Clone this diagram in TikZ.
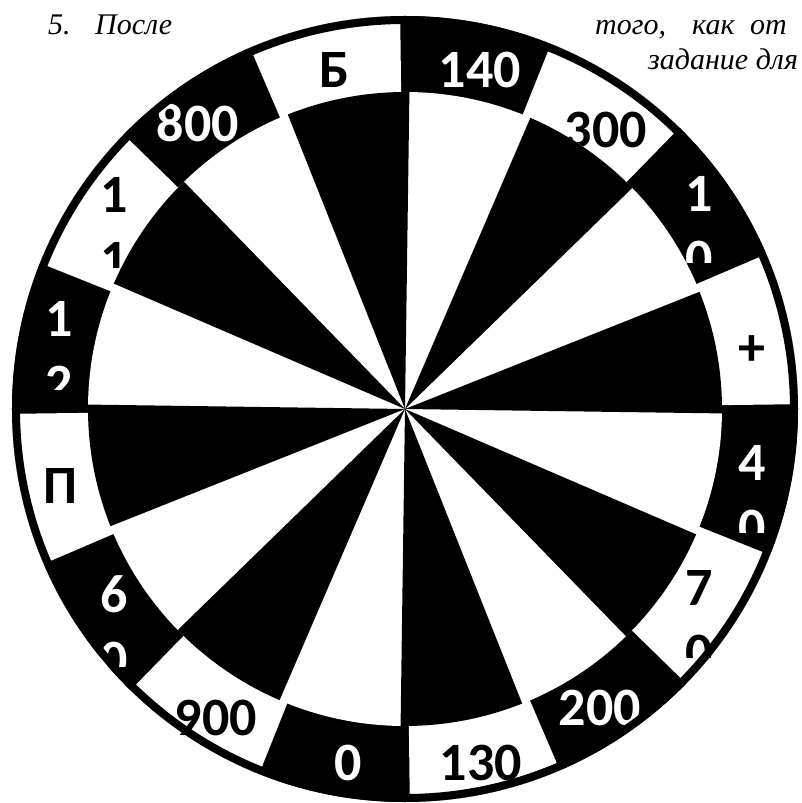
\documentclass[tikz,border=0pt]{standalone}
\usepackage{fontspec}
\setmainfont{Liberation Serif}
\newfontfamily\lblfont{Carlito}
\usetikzlibrary{positioning}
\tikzset{
  lbl/.style={font=\lblfont\bfseries\fontsize{54}{65}\selectfont,
              inner sep=0pt, anchor=base},
  lblw/.style={lbl, text=white},
  lblb/.style={lbl, text=black},
  txt/.style={font=\itshape\fontsize{30}{36}\selectfont,
              inner sep=0pt, anchor=base west},
  rim/.style={draw=black, line width=8pt},
}

\begin{document}
\begin{tikzpicture}[x=1pt, y=1pt]
  \useasboundingbox (-405,-394) rectangle (396,409);
  \clip (-405,-394) rectangle (396,409);
  % text under the wheel
  \node[txt] (num) at (-357,374) {5.};
  \node[txt] (w1) at (-310,374) {После};
  \node[txt] (w2) at (190,374) {того,};
  \node[txt] (w3) at (287,374) {как};
  \node[txt] (w4) at (345,374) {от};
  \node[txt] (w5) at (243,339) {задание для};
  % outer ring
  \fill[black] (0,0) circle[radius=393pt];
  \foreach \k in {0,2,...,14} {
    \fill[white] (0,0) -- ({22.5*\k+0.7}:393pt)
      arc[start angle={22.5*\k+0.7}, end angle={22.5*\k+23.2}, radius=393pt] -- cycle;
  }
  % ring labels
  \node[lblb] (b) at (-70,321) {Б};
  \node[lblw] (l140) at (75,321) {140};
  \node[lblw] (l800) at (-207,267) {800};
  \node[lblb] (l300) at (201,261) {300};
  \node[lblb] (plus) at (347,43) {+};
  \node[lblb] (p) at (-344,-94) {П};
  \node[lblb] (l900) at (-189,-326) {900};
  \node[lblw] (l0) at (-57,-371) {0};
  \node[lblb] (l130) at (76,-371) {130};
  \node[lblw] (l200) at (195,-316) {200};
  \begin{scope}
    \clip (254,146) rectangle (334,260);
    \node[lblw] (l10a) at (294,197) {1};
    \node[lblw] (l10b) at (294,132) {0};
  \end{scope}
  \begin{scope}
    \clip (-331,141) rectangle (-251,260);
    \node[lblb] (l11a) at (-291,196) {1};
    \node[lblb] (l11b) at (-291,131) {1};
  \end{scope}
  \begin{scope}
    \clip (-386,19) rectangle (-306,130);
    \node[lblw] (l12a) at (-346,72) {1};
    \node[lblw] (l12b) at (-346,7) {2};
  \end{scope}
  \begin{scope}
    \clip (307,-123) rectangle (387,-10);
    \node[lblw] (l40a) at (347,-71) {4};
    \node[lblw] (l40b) at (347,-136) {0};
  \end{scope}
  \begin{scope}
    \clip (-331,-257) rectangle (-251,-140);
    \node[lblw] (l60a) at (-291,-203) {6};
    \node[lblw] (l60b) at (-291,-268) {0};
  \end{scope}
  \begin{scope}
    \clip (254,-248) rectangle (334,-130);
    \node[lblb] (l70a) at (294,-196) {7};
    \node[lblb] (l70b) at (294,-261) {0};
  \end{scope}
  % inner disc
  \fill[white] (0,0) circle[radius=317pt];
  \foreach \k in {0,2,...,14} {
    \fill[black] (0,0) -- ({22.5*\k-0.8}:317pt)
      arc[start angle={22.5*\k-0.8}, end angle={22.5*\k+21.7}, radius=317pt] -- cycle;
  }
  \draw[rim] (0,0) circle[radius=389pt];
\end{tikzpicture}
\end{document}
